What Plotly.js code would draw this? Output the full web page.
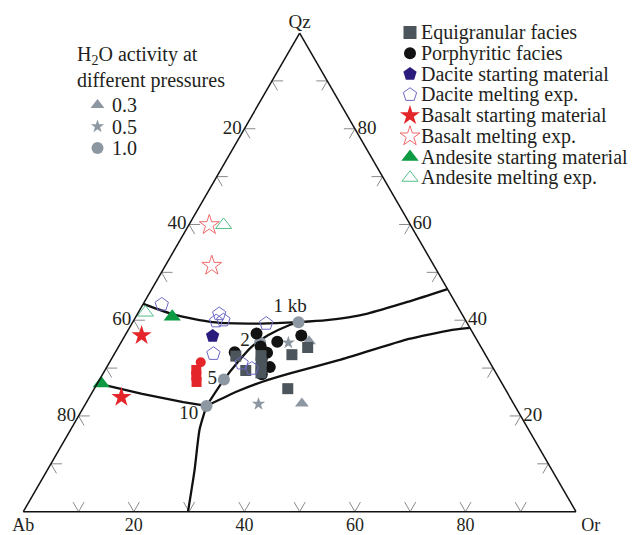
<!DOCTYPE html>
<html><head><meta charset="utf-8">
<script src="https://cdn.plot.ly/plotly-3.0.1.min.js"></script>
<style>html,body{margin:0;padding:0;background:#fff}</style>
</head><body><div id="chart" style="width:642px;height:535px"></div>
<script>
// ---------- DATA (Qz, Ab, Or in %) ----------
const equiQz = [32.5, 29.5, 32.6, 31.3, 30.0, 29.0, 32.8, 34.3, 25.7];
const equiAb = [45.3, 45.0, 40.7, 41.3, 42.0, 42.5, 35.0, 31.4, 39.3];
const equiOr = [22.2, 25.5, 26.7, 27.4, 28.0, 28.5, 32.2, 34.3, 35.0];

const porQz = [37.2, 33.3, 35.5, 36.8, 34.5, 33.2, 31.9, 30.2, 28.7];
const porAb = [39.2, 45.1, 36.3, 31.3, 39.8, 39.3, 40.9, 40.3, 42.5];
const porOr = [23.6, 21.6, 28.2, 31.9, 25.7, 27.5, 27.2, 29.5, 28.8];

const dacStartQz = [36.7], dacStartAb = [47.4], dacStartOr = [15.9];
const dacMeltQz = [43.3, 41.3, 39.8, 40.0, 39.3, 33.0, 31.0, 29.9];
const dacMeltAb = [53.3, 43.9, 45.2, 43.8, 36.4, 49.1, 45.0, 43.7];
const dacMeltOr = [3.4, 14.8, 15.0, 16.2, 24.3, 17.9, 24.0, 26.4];

const basStartQz = [36.8, 23.9], basStartAb = [60.2, 70.3], basStartOr = [3.0, 5.8];
const basMeltQz = [59.9, 51.4], basMeltAb = [36.4, 40.2], basMeltOr = [3.7, 8.4];
const basOtherQz = [31.2, 29.6, 28.4, 27.1];
const basOtherAb = [52.3, 53.9, 54.5, 55.1];
const basOtherOr = [16.5, 16.5, 17.1, 17.8];

const andStartQz = [40.7, 26.8], andStartAb = [52.7, 72.5], andStartOr = [6.6, 0.7];
const andMeltQz = [59.9, 41.6], andMeltAb = [33.8, 57.1], andMeltOr = [6.3, 1.3];

// H2O activity markers
const aw03Qz = [22.6, 35.6], aw03Ab = [38.3, 30.5], aw03Or = [39.1, 33.9];
const aw05Qz = [35.3, 22.5], aw05Ab = [34.4, 46.2], aw05Or = [30.3, 31.3];
const aw10Qz = [39.6, 35.3, 27.6, 22.1], aw10Ab = [30.4, 39.5, 49.9, 55.8], aw10Or = [30.0, 25.2, 22.5, 22.1];

// cotectic / minimum-melt curves
const upperQz = [43.4, 41.1, 39.6, 39.3, 39.6, 40.0, 41.4, 43.9, 46.5];
const upperAb = [56.6, 52.0, 46.0, 37.3, 30.4, 25.1, 17.0, 8.3, 0];
const upperOr = [0, 6.9, 14.4, 23.4, 30.0, 34.9, 41.6, 47.8, 53.5];
const lowRQz = [22.1, 25.1, 27.2, 28.9, 31.7, 36.1, 37.9, 38.4];
const lowRAb = [55.8, 48.8, 43.0, 37.3, 26.9, 12.2, 3.9, 0];
const lowROr = [22.1, 26.1, 29.8, 33.8, 41.4, 51.7, 58.2, 61.6];
const lowLQz = [26.8, 24.6, 22.9, 22.1];
const lowLAb = [73.2, 66.2, 59.6, 55.8];
const lowLOr = [0, 9.2, 17.5, 22.1];
const vertQz = [22.1, 17.2, 8.8, 0];
const vertAb = [55.8, 59.5, 64.6, 70.2];
const vertOr = [22.1, 23.3, 26.6, 29.8];
const presQz = [22.1, 27.6, 31.4, 34.5, 36.9, 39.0, 39.6];
const presAb = [55.8, 49.9, 45.4, 41.4, 37.2, 32.3, 30.4];
const presOr = [22.1, 22.5, 23.2, 24.1, 25.9, 28.7, 30.0];

// pressure labels
const presLabels = ['1 kb', '2', '5', '10'];
const presLabQz = [42.8, 35.6, 27.6, 20.3];
const presLabAb = [30.3, 42.1, 52.0, 59.9];
const presLabOr = [26.9, 22.3, 20.4, 19.8];

// axis ticks / labels
const tickSteps = [10, 20, 30, 40, 50, 60, 70, 80, 90];
const leftTickVals = [80, 60, 40, 20], leftTickText = ['20', '40', '60', '80'];   // Ab read on left edge
const bottomTickOr = [20, 40, 60, 80], bottomTickText = ['20', '40', '60', '80']; // Or read on bottom edge
const rightTickVals = [20, 40, 60, 80], rightTickText = ['80', '60', '40', '20'];  // Qz read on right edge
const apexNames = ['Qz', 'Ab', 'Or'];

const legendLabels = ['Equigranular facies', 'Porphyritic facies', 'Dacite starting material',
  'Dacite melting exp.', 'Basalt starting material', 'Basalt melting exp.',
  'Andesite starting material', 'Andesite melting exp.'];
const h2oTitle = 'H<sub>2</sub>O activity at<br>different pressures';
const h2oLabels = ['0.3', '0.5', '1.0'];

// ---------- STYLES ----------
const FONT = 'Liberation Serif, Times New Roman, serif';
const TXT = '#231f20';
const GRAY = '#8c97a2';
const LEGFS = 20;
const sty = {
  equi: {symbol: 'square', size: 11, color: '#4b555b'},
  por: {symbol: 'circle', size: 12, color: '#121212'},
  dacS: {symbol: 'pentagon', size: 14, color: '#2a1c7c'},
  dacM: {symbol: 'pentagon-open', size: 14, color: '#6b68c4', line: {width: 1}},
  basS: {symbol: 'star', size: 15, color: '#e4262a'},
  basM: {symbol: 'star-open', size: 15, color: '#ef6a6a', line: {width: 1}},
  andS: {symbol: 'triangle-up', size: 15, color: '#0c9a43'},
  andM: {symbol: 'triangle-up-open', size: 14, color: '#55c08a', line: {width: 1}},
  aw03: {symbol: 'triangle-up', size: 12, color: GRAY},
  aw05: {symbol: 'star', size: 10, color: GRAY},
  aw10: {symbol: 'circle', size: 12, color: GRAY}
};

function tern(a, b, c, extra) {
  return Object.assign({type: 'scatterternary', a: a, b: b, c: c, hoverinfo: 'skip',
    showlegend: false, cliponaxis: false}, extra);
}
function pts(a, b, c, s, name) {
  const m = Object.assign({}, s);
  if (!m.line) m.line = {width: 0};
  return tern(a, b, c, {mode: 'markers', name: name, marker: m});
}
const lineStyle = {color: '#111', width: 2.3};

// V-shaped tick marks along the three edges (drawn along the two grid directions)
const d = 2;
const tkA = [], tkB = [], tkC = [];
function addV(p1, p0, p2) {
  [p1, p0, p2].forEach(p => { tkA.push(p[0]); tkB.push(p[1]); tkC.push(p[2]); });
  tkA.push(null); tkB.push(null); tkC.push(null);
}
tickSteps.forEach(k => {
  addV([d, 100 - k - d, k], [0, 100 - k, k], [d, 100 - k, k - d]);          // bottom
  addV([k, 100 - k - d, d], [k, 100 - k, 0], [k - d, 100 - k, d]);          // left
  addV([k, d, 100 - k - d], [k, 0, 100 - k], [k - d, d, 100 - k]);          // right
});

const txtFont = {family: FONT, size: 19, color: TXT};
const botFont = {family: FONT, size: 18, color: TXT};
// invisible spacer marker: pushes bottom texts a little below the edge
const spacer = {size: 7, color: 'rgba(0,0,0,0)', line: {width: 0}};
const traces = [
  tern(tkA, tkB, tkC, {mode: 'lines', line: {color: '#8a8a8a', width: 1}, connectgaps: false}),
  tern(upperQz, upperAb, upperOr, {mode: 'lines', line: Object.assign({shape: 'spline', smoothing: 0.6}, lineStyle)}),
  tern(lowRQz, lowRAb, lowROr, {mode: 'lines', line: Object.assign({shape: 'spline', smoothing: 0.4}, lineStyle)}),
  tern(lowLQz, lowLAb, lowLOr, {mode: 'lines', line: lineStyle}),
  tern(vertQz, vertAb, vertOr, {mode: 'lines', line: Object.assign({shape: 'spline', smoothing: 0.6}, lineStyle)}),
  tern(presQz, presAb, presOr, {mode: 'lines', line: Object.assign({shape: 'spline', smoothing: 0.6}, lineStyle)}),
  pts(aw03Qz, aw03Ab, aw03Or, sty.aw03, 'aH2O 0.3'),
  pts(aw05Qz, aw05Ab, aw05Or, sty.aw05, 'aH2O 0.5'),
  pts(aw10Qz, aw10Ab, aw10Or, sty.aw10, 'aH2O 1.0'),
  tern(basOtherQz, basOtherAb, basOtherOr, {mode: 'markers', marker: {symbol: ['circle', 'square', 'square', 'square'], size: 10, color: '#e4262a'}}),
  pts(porQz, porAb, porOr, sty.por, legendLabels[1]),
  pts(equiQz, equiAb, equiOr, sty.equi, legendLabels[0]),
  pts(dacMeltQz, dacMeltAb, dacMeltOr, sty.dacM, legendLabels[3]),
  pts(dacStartQz, dacStartAb, dacStartOr, sty.dacS, legendLabels[2]),
  pts(basMeltQz, basMeltAb, basMeltOr, sty.basM, legendLabels[5]),
  pts(basStartQz, basStartAb, basStartOr, sty.basS, legendLabels[4]),
  pts(andMeltQz, andMeltAb, andMeltOr, sty.andM, legendLabels[7]),
  pts(andStartQz, andStartAb, andStartOr, sty.andS, legendLabels[6]),
  tern(presLabQz, presLabAb, presLabOr, {mode: 'text', text: presLabels, textposition: 'middle center',
    textfont: txtFont}),
  // bottom-edge labels (Or), placed on the edge through the ternary scale
  tern(bottomTickOr.map(() => 0), bottomTickOr.map(v => 100 - v), bottomTickOr, {mode: 'markers+text',
    marker: spacer, text: bottomTickText, textposition: 'bottom center', textfont: botFont}),
  // apex names
  tern([100], [0], [0], {mode: 'text', text: [apexNames[0]], textposition: 'top center', textfont: txtFont}),
  tern([0], [100], [0], {mode: 'markers+text', marker: spacer, text: [apexNames[1]], textposition: 'bottom center', textfont: botFont}),
  tern([0], [0], [100], {mode: 'markers+text', marker: spacer, text: [apexNames[2]], textposition: 'bottom right', textfont: botFont})
];

// ---------- custom legends (pixel overlay axes) ----------
const legStyles = [sty.equi, sty.por, sty.dacS, sty.dacM, sty.basS, sty.basM, sty.andS, sty.andM];
const legX = 410, legY0 = 32.5, legDY = 20.75;
const annotations = [];
legendLabels.forEach((lab, i) => {
  const m = Object.assign({}, legStyles[i]);
  if (!m.line) m.line = {width: 0};
  if (m.symbol === 'square') m.size = 13;
  traces.push({type: 'scatter', x: [legX], y: [legY0 + i * legDY], mode: 'markers', marker: m,
    xaxis: 'x', yaxis: 'y', hoverinfo: 'skip', showlegend: false, cliponaxis: false});
  annotations.push({xref: 'x', yref: 'y', x: legX + 9, y: legY0 + i * legDY, text: lab, showarrow: false,
    xanchor: 'left', yanchor: 'middle', font: {family: FONT, size: LEGFS, color: TXT}});
});
const h2oStyles = [sty.aw03, sty.aw05, sty.aw10];
const h2oX = 97.5, h2oY0 = 105, h2oDY = 21.5;
h2oLabels.forEach((lab, i) => {
  const m = Object.assign({}, h2oStyles[i], {line: {width: 0}});
  traces.push({type: 'scatter', x: [h2oX], y: [h2oY0 + i * h2oDY], mode: 'markers', marker: m,
    xaxis: 'x', yaxis: 'y', hoverinfo: 'skip', showlegend: false, cliponaxis: false});
  annotations.push({xref: 'x', yref: 'y', x: h2oX + 12, y: h2oY0 + i * h2oDY, text: lab, showarrow: false,
    xanchor: 'left', yanchor: 'middle', font: {family: FONT, size: LEGFS, color: TXT}});
});
annotations.push({xref: 'x', yref: 'y', x: 75, y: 67, text: h2oTitle, showarrow: false, align: 'left',
  xanchor: 'left', yanchor: 'middle', font: {family: FONT, size: LEGFS, color: TXT}});

const axBase = {showgrid: false, ticks: '', linecolor: '#111', linewidth: 1.5, showline: true,
  tickfont: {family: FONT, size: 19, color: TXT}, tickmode: 'array', title: {text: ''}};
const layout = {
  width: 642, height: 535,
  margin: {l: 0, r: 0, t: 0, b: 0, pad: 0},
  paper_bgcolor: '#fff', plot_bgcolor: 'rgba(0,0,0,0)',
  showlegend: false,
  xaxis: {domain: [0, 1], range: [0, 642], visible: false, fixedrange: true},
  yaxis: {domain: [0, 1], range: [535, 0], visible: false, fixedrange: true},
  ternary: {
    sum: 100,
    bgcolor: 'rgba(0,0,0,0)',
    domain: {x: [23.3 / 642, 576 / 642], y: [23 / 535, 502.3 / 535]},
    aaxis: Object.assign({}, axBase, {tickvals: leftTickVals, ticktext: leftTickText}),
    baxis: Object.assign({}, axBase, {showticklabels: false}),
    caxis: Object.assign({}, axBase, {tickvals: rightTickVals, ticktext: rightTickText})
  },
  annotations: annotations
};
Plotly.newPlot('chart', traces, layout, {staticPlot: true, displayModeBar: false});
</script></body></html>
